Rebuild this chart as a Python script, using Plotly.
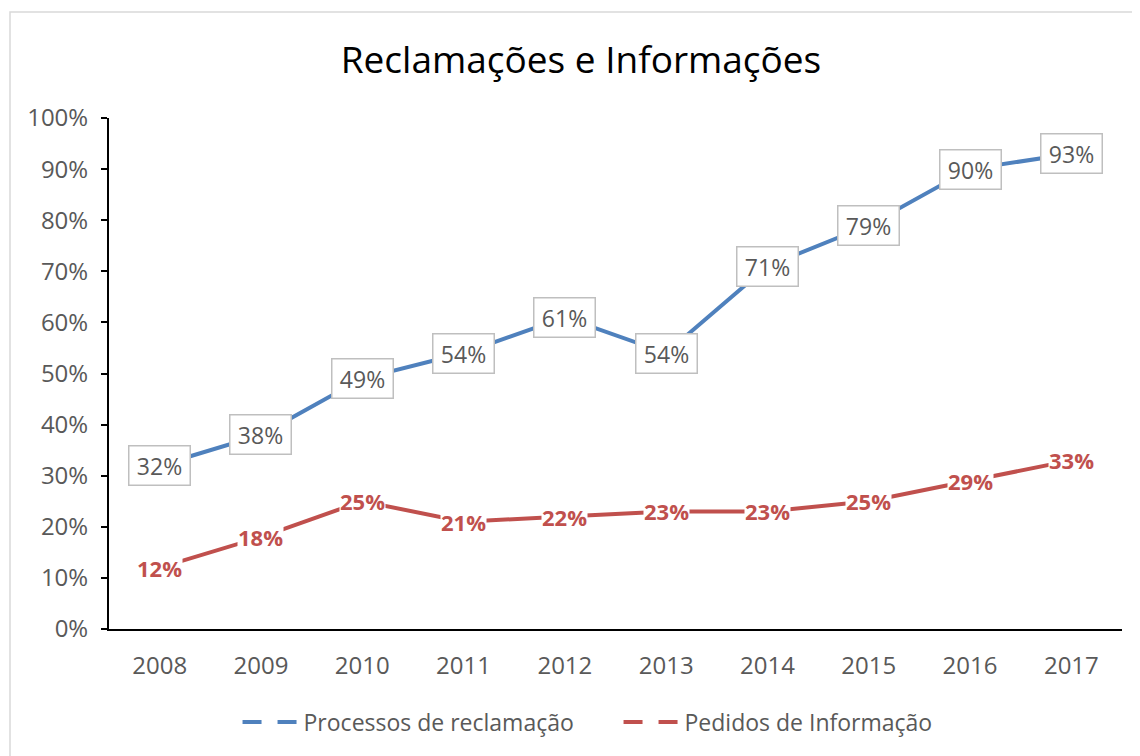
import plotly.graph_objects as go

years = ["2008", "2009", "2010", "2011", "2012", "2013", "2014", "2015", "2016", "2017"]
reclamacoes = [32, 38, 49, 54, 61, 54, 71, 79, 90, 93]
informacoes = [12, 18, 25, 21, 22, 23, 23, 25, 29, 33]
y_ticks = [0, 10, 20, 30, 40, 50, 60, 70, 80, 90, 100]

BLUE = "#4f81bd"
RED = "#c0504d"
FONT = "Open Sans"

fig = go.Figure()
fig.add_trace(go.Scatter(x=years, y=reclamacoes, mode="lines", line=dict(color=BLUE, width=4),
                         showlegend=False))
fig.add_trace(go.Scatter(x=years, y=informacoes, mode="lines", line=dict(color=RED, width=4),
                         showlegend=False))
# legend entries (dashed symbols)
fig.add_trace(go.Scatter(x=[None], y=[None], mode="lines", name="Processos de reclamação",
                         line=dict(color=BLUE, width=4, dash="19px,16px")))
fig.add_trace(go.Scatter(x=[None], y=[None], mode="lines", name="Pedidos de Informação",
                         line=dict(color=RED, width=4, dash="19px,16px")))

annotations = []
# category axis: annotation x given as category index
for i, v in enumerate(reclamacoes):
    annotations.append(dict(x=i, y=v, xref="x", yref="y", text=f"{v}%", showarrow=False,
                            font=dict(family=FONT, size=23, color="#595959"),
                            bgcolor="white", bordercolor="#bfbfbf", borderwidth=1.5,
                            borderpad=5, width=50, height=28))
for i, v in enumerate(informacoes):
    annotations.append(dict(x=i, y=v, xref="x", yref="y", text=f"<b>{v}%</b>", showarrow=False,
                            font=dict(family=FONT, size=22, color=RED),
                            bgcolor="white", borderpad=0))

W, H = 1132, 748
fig.update_layout(
    width=W, height=H,
    margin=dict(l=101, r=18, t=110, b=127),
    paper_bgcolor="white", plot_bgcolor="white",
    title=dict(text="Reclamações e Informações", x=573 / W, xanchor="center",
               y=1 - 52 / H, yanchor="middle",
               font=dict(family=FONT, size=37, color="black")),
    xaxis=dict(type="category", range=[-0.5, 9.5], showgrid=False, showline=True,
               linecolor="black", linewidth=2, ticks="", ticklabelstandoff=14,
               tickfont=dict(family=FONT, size=24, color="#595959"), zeroline=False),
    yaxis=dict(range=[0, 100], tickvals=y_ticks, ticktext=[f"{t}%" for t in y_ticks],
               showgrid=False, showline=True, linecolor="black", linewidth=2,
               ticks="outside", ticklen=6, tickwidth=2, tickcolor="black",
               ticklabelstandoff=8,
               tickfont=dict(family=FONT, size=24, color="#595959"), zeroline=False),
    legend=dict(orientation="h", x=0.503, xanchor="center", y=-0.182, yanchor="middle",
                font=dict(family=FONT, size=23, color="#595959"), itemwidth=56,
                entrywidth=310, entrywidthmode="pixels"),
    annotations=annotations,
    shapes=[dict(type="rect", xref="paper", yref="paper",
                 x0=(2 - 101) / 1013, x1=1.05, y0=-0.3, y1=(621 - 4) / 511,
                 line=dict(color="#d9d9d9", width=1.5), layer="below")],
)

fig.write_html("out.html")
